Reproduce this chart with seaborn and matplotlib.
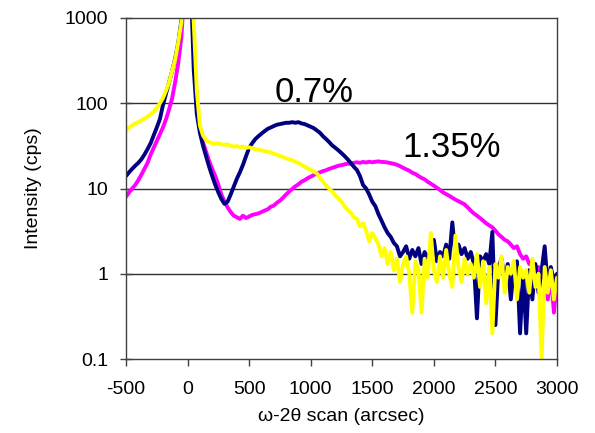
import numpy as np
import pandas as pd
import matplotlib
matplotlib.use("Agg")
import matplotlib.pyplot as plt
import seaborn as sns

# scan positions (arcsec), sampled every 25 arcsec
scan_arcsec = np.arange(-500, 3001, 25)

# 0.7 % sample (navy)
navy_07 = [
    14, 15.5, 17, 18.5, 20, 22, 25, 29, 34, 42,
    52, 65, 95, 130, 175, 240, 340, 520, 950, 3000,
    20000,
    3000, 250, 75, 45, 32, 24, 18, 14, 11, 9,
    7.5, 6.6, 7, 8.5, 10.5, 13, 15.5, 19, 24, 30,
    34, 38, 41, 44, 47, 50, 52, 54, 56, 57,
    58, 59, 59, 60, 59, 60, 58, 57, 55, 53,
    51, 48, 45, 41, 38, 35, 32, 30, 28, 26,
    24, 22, 20, 18, 16.5, 14, 11, 10, 8.5, 7,
    6.2, 5, 4.2, 3.5, 3.0, 2.7, 2.3, 2.1, 1.6,
    1.8, 2.1, 1.5, 1.9, 1.6, 2.0, 1.3, 1.8, 1.5, 1.9,
    2.5, 1.4, 1.8, 1.6, 2.2, 1.5, 4.0, 1.6, 2.2, 1.7,
    2.0, 1.5, 1.8, 1.3, 0.3, 1.6, 1.4, 1.7, 1.3, 3.1,
    0.25, 1.2, 1.5, 0.8, 1.3, 0.5, 1.2, 1.4, 0.2, 1.0,
    0.2, 1.1, 0.5, 1.3, 0.6, 1.1, 2.1, 0.7, 1.2, 0.8,
    1.0,
]

# 1.35 % sample (magenta)
magenta_135 = [
    8, 9, 10, 11, 12.5, 14.5, 17, 20, 25, 30,
    36, 43, 52, 65, 85, 115, 180, 300, 600, 2500,
    20000,
    2500, 600, 90, 50, 35, 27, 21, 17, 14, 11,
    8.5, 7, 6, 5.3, 4.8, 4.6, 4.4, 4.8, 4.5, 4.7,
    4.9, 5.0, 5.1, 5.3, 5.5, 5.7, 6.1, 6.3, 6.8, 7.2,
    7.8, 8.5, 9.2, 9.9, 10.6, 11.2, 12, 12.5, 13.2, 13.8,
    14.4, 15, 15.5, 16, 16.4, 17, 17.5, 18, 18.5, 18.8,
    19.2, 19.6, 19.4, 20, 20.3, 20, 20.5, 20.2, 20.6, 20.3,
    20.6, 20.8, 20.5, 20.4, 20.2, 19.8, 19.5, 19, 18.3, 17.5,
    16.8, 16.2, 15.3, 14.8, 14, 13.3, 12.8, 12, 11.4, 10.8,
    10.2, 9.6, 9, 8.6, 8.2, 7.8, 7.4, 7.1, 6.8, 6.5,
    6.0, 5.5, 5.1, 4.8, 4.5, 4.2, 3.9, 3.7, 3.5, 3.2,
    2.9, 2.7, 2.5, 2.4, 2.2, 2.0, 2.1, 1.7, 1.5, 1.6,
    1.3, 1.3, 1.1, 1.2, 0.9, 1.3, 0.5, 1.0, 0.35, 0.9,
]

# yellow sample
yellow_ref = [
    48, 52, 55, 58, 60, 63, 66, 70, 74, 80,
    88, 100, 115, 140, 175, 240, 330, 520, 900, 3500,
    20000,
    3500, 900, 140, 55, 42, 37, 35, 34, 33.5, 34,
    33, 32.5, 33, 31.5, 31, 31.5, 30.5, 31, 30, 30.5,
    29.5, 29, 28.5, 28, 27.5, 27, 26.5, 25.5, 25, 24,
    23.5, 22.5, 22, 21.5, 20.5, 20, 19, 18, 17.3, 16.5,
    15.8, 15, 13.5, 12, 10.8, 10, 9.2, 8.3, 7.6, 7,
    6.2, 5.6, 5.2, 4.6, 4.4, 3.6, 3.9, 3.2, 2.4, 3.0,
    2.6, 2.2, 1.6, 2.0, 1.3, 1.8, 1.1, 1.5, 0.8, 1.3,
    1.6, 1.0, 0.35, 1.4, 1.1, 0.35, 1.5, 0.9, 3.0, 1.1,
    0.8, 1.6, 0.9, 1.9, 1.0, 0.7, 2.8, 1.2, 0.8, 1.5,
    1.0, 1.3, 0.9, 1.7, 0.7, 1.4, 0.45, 1.2, 0.2, 1.3,
    0.9, 1.6, 0.6, 1.2, 1.0, 1.4, 0.5, 1.2, 0.9, 1.1,
    0.6, 1.5, 0.7, 1.0, 0.1, 1.2, 0.6, 1.1, 0.5, 0.9,
]

series_names = ["1.35%", "0.7%", "ref"]
series_colors = ["#FF00FF", "#000080", "#FFFF00"]
y_ticks = [0.1, 1, 10, 100, 1000]
y_tick_labels = ["0.1", "1", "10", "100", "1000"]
x_ticks = [-500, 0, 500, 1000, 1500, 2000, 2500, 3000]

df = pd.concat([
    pd.DataFrame({"x": scan_arcsec, "y": magenta_135, "s": series_names[0]}),
    pd.DataFrame({"x": scan_arcsec, "y": navy_07, "s": series_names[1]}),
    pd.DataFrame({"x": scan_arcsec, "y": yellow_ref, "s": series_names[2]}),
], ignore_index=True)

sns.set_style("white")
plt.rcParams["font.family"] = ["Liberation Sans", "DejaVu Sans"]
plt.rcParams["text.color"] = "black"
plt.rcParams["axes.labelcolor"] = "black"
plt.rcParams["xtick.labelcolor"] = "black"
plt.rcParams["ytick.labelcolor"] = "black"

fig = plt.figure(figsize=(5.95, 4.33), dpi=100)
ax = fig.add_axes([126 / 595, 1 - 359 / 433, 431 / 595, 341 / 433])

sns.lineplot(data=df, x="x", y="y", hue="s", hue_order=series_names,
             palette=series_colors, linewidth=2.8, legend=False,
             estimator=None, sort=False, ax=ax)

ax.set_yscale("log")
ax.set_ylim(0.1, 1000)
ax.set_xlim(-500, 3000)
ax.set_yticks(y_ticks)
ax.set_yticklabels(y_tick_labels)
ax.minorticks_off()
ax.set_xticks(x_ticks)
ax.set_xticklabels([str(t) for t in x_ticks])

for yv in [1, 10, 100]:
    ax.axhline(yv, color="#303030", linewidth=1.0, zorder=0.5)

for sp in ax.spines.values():
    sp.set_color("#404040")
    sp.set_linewidth(1.0)

ax.tick_params(axis="y", direction="inout", length=8, width=1, color="#404040",
               labelsize=14, pad=9, left=True, labelcolor="black")
ax.tick_params(axis="x", direction="out", length=5, width=1, color="#404040",
               labelsize=14, pad=11, bottom=True, labelcolor="black")

ax.set_xlabel("ω-2θ scan (arcsec)", fontsize=14, labelpad=7, color="black")
ax.set_ylabel("Intensity (cps)", fontsize=14, labelpad=16, color="black")

ann_font = ["Liberation Sans Narrow", "Liberation Sans"]
ax.text(710, 104, "0.7%", fontsize=25, family=ann_font, ha="left",
        va="baseline", color="black")
ax.text(1741, 23.6, "1.35%", fontsize=25, family=ann_font, ha="left",
        va="baseline", color="black")

fig.savefig("out.png", dpi=100)
